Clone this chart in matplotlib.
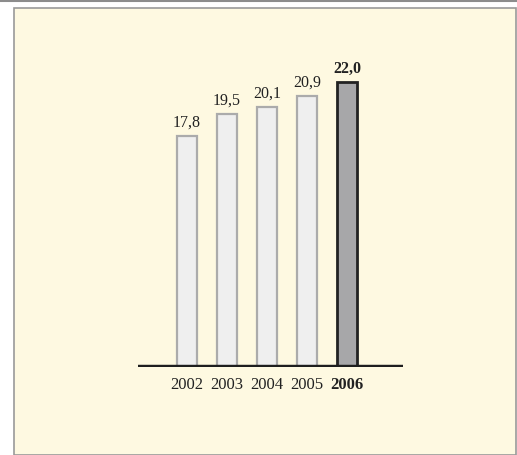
import matplotlib.pyplot as plt
from matplotlib.patches import Rectangle

years = ['2002', '2003', '2004', '2005', '2006']
values = [17.8, 19.5, 20.1, 20.9, 22.0]
labels = ['17,8', '19,5', '20,1', '20,9', '22,0']

W, H = 517, 455
fig = plt.figure(figsize=(W / 100, H / 100), dpi=100)
fig.patch.set_facecolor('white')

# cream panel + top rule (behind the axes)
fig.add_artist(Rectangle((14 / W, 0), (516 - 14) / W, (H - 8) / H, transform=fig.transFigure,
                         facecolor='#fef9e1', edgecolor='#9a9a9a', lw=1.2, zorder=-5))
fig.add_artist(plt.Line2D([0, 1], [1 - 0.8 / H, 1 - 0.8 / H], transform=fig.transFigure,
                          color='#8c8c8c', lw=1.5, zorder=-5))

ax = fig.add_axes([138 / W, 88 / H, (403 - 138) / W, 324 / H])
ax.patch.set_alpha(0)
x = list(range(len(years)))
for i, v in enumerate(values):
    last = i == len(values) - 1
    ax.bar(i, v, width=0.5, color='#a7a7a9' if last else '#efefef',
           edgecolor='#222222' if last else '#ababab', lw=2 if last else 1.6, zorder=2)
    ax.text(i, v + 0.4, labels[i], ha='center', va='bottom', fontsize=11.5,
            family='Liberation Serif', color='#222222',
            fontweight='bold' if last else 'normal')
ax.set_xlim(-1.225, 5.4)
ax.set_ylim(0, 25)
ax.axhline(0, color='#1e1e1e', lw=3.2, zorder=3)
for s in ax.spines.values():
    s.set_visible(False)
ax.set_yticks([])
ax.set_xticks(x)
ax.set_xticklabels(years, family='Liberation Serif', fontsize=12, color='#222222')
ax.get_xticklabels()[-1].set_fontweight('bold')
ax.tick_params(axis='x', length=0, pad=7)

fig.savefig('out.png', dpi=100)
